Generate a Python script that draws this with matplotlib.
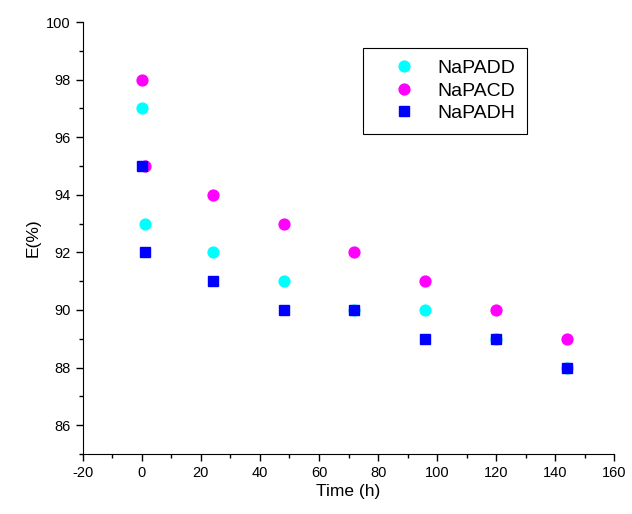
import matplotlib.pyplot as plt
from matplotlib.ticker import MultipleLocator

plt.rcParams['font.family'] = ['Liberation Sans', 'DejaVu Sans']
plt.rcParams['axes.unicode_minus'] = False

# data
time_padd = [0, 1, 24, 48, 72, 96, 120, 144]
e_padd = [97, 93, 92, 91, 90, 90, 89, 88]

time_pacd = [0, 1, 24, 48, 72, 96, 120, 144]
e_pacd = [98, 95, 94, 93, 92, 91, 90, 89]

time_padh = [0, 1, 24, 48, 72, 96, 120, 144]
e_padh = [95, 92, 91, 90, 90, 89, 89, 88]

fig = plt.figure(figsize=(6.32, 5.14), dpi=100)
ax = fig.add_axes([0.131, 0.117, 0.841, 0.840])

ax.plot(time_padd, e_padd, 'o', color='#00ffff', markersize=7.8, label='NaPADD')
ax.plot(time_pacd, e_pacd, 'o', color='#ff00ff', markersize=7.8, label='NaPACD')
ax.plot(time_padh, e_padh, 's', color='#0000ff', markersize=6.5, label='NaPADH')

ax.set_xlim(-20, 160)
ax.set_ylim(85, 100)
ax.xaxis.set_major_locator(MultipleLocator(20))
ax.xaxis.set_minor_locator(MultipleLocator(10))
ax.yaxis.set_major_locator(MultipleLocator(2))
ax.yaxis.set_minor_locator(MultipleLocator(1))
ax.spines['top'].set_visible(False)
ax.spines['right'].set_visible(False)
ax.tick_params(which='major', direction='out', length=5, width=1, labelsize=10.5)
ax.tick_params(which='minor', direction='out', length=3, width=1)

ax.set_xlabel('Time (h)', fontsize=12.5, labelpad=3)
ax.set_ylabel('E(%)', fontsize=12.5)

leg = ax.legend(loc='upper left', bbox_to_anchor=(0.527, 0.94), fontsize=14,
                fancybox=False, edgecolor='black', framealpha=1,
                handlelength=3.0, handletextpad=0.25, borderpad=0.6,
                labelspacing=0.25, borderaxespad=0)
leg.get_frame().set_linewidth(0.8)

fig.savefig('out.png', dpi=100)
